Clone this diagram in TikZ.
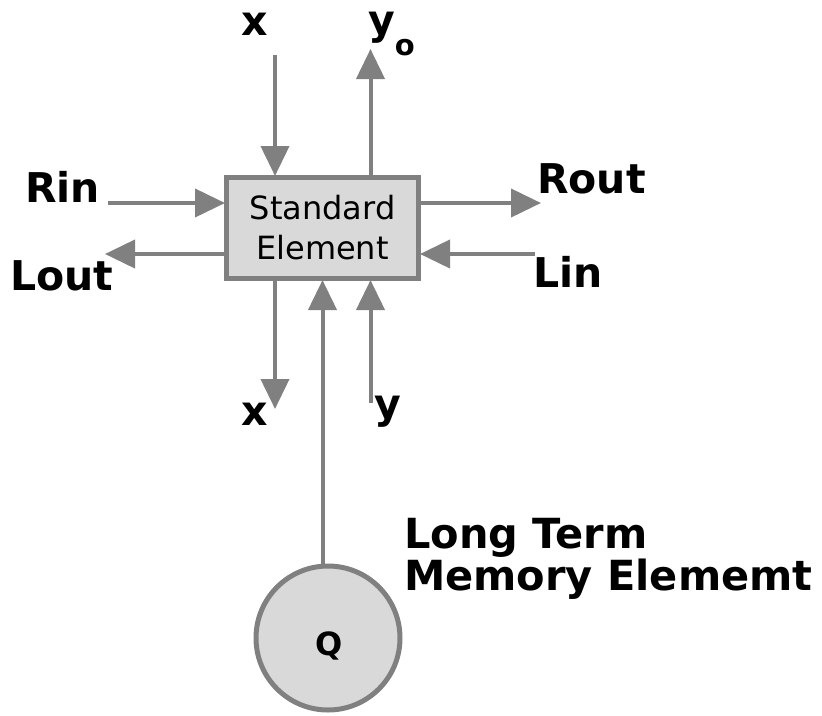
\documentclass[tikz,border=0pt]{standalone}
\usepackage{fontspec}
\setmainfont{DejaVu Sans}
\usetikzlibrary{arrows.meta}
\definecolor{linegray}{HTML}{808080}
\definecolor{fillgray}{HTML}{D9D9D9}
\tikzset{
  conn/.style={draw=linegray, line width=4pt, -{Triangle[width=28pt,length=30pt]}, shorten >=-1pt},
  lbl/.style={font=\fontsize{41}{41}\selectfont\bfseries, inner sep=0pt},
  elem/.style={draw=linegray, fill=fillgray, line width=5pt, minimum width=192pt, minimum height=101pt,
    inner sep=0pt, align=center, font=\fontsize{32}{40}\selectfont},
  memory/.style={circle, draw=linegray, fill=fillgray, line width=5pt, minimum size=144pt, inner sep=0pt}
}
\begin{document}
\begin{tikzpicture}[x=1pt,y=-1pt]
\useasboundingbox (0,0) rectangle (822,715);
\node[elem] (se) at (322.5,228) {Standard\\Element};
\node[memory] (q) at (328,638) {};
\node[font=\fontsize{32}{32}\selectfont\bfseries, anchor=base] (qlbl) at (329,655) {Q};
% free ends
\coordinate (xin) at (275,55);
\coordinate (yo) at (370.5,50);
\coordinate (rin) at (108,203);
\coordinate (rout) at (540,203);
\coordinate (lout) at (106,254);
\coordinate (lin) at (535,254);
\coordinate (xout) at (275,408);
\coordinate (yin) at (370.5,403);
\coordinate (qtop) at (322.5,566);
% connectors
\draw[conn] (xin) -- (xin |- se.north);
\draw[conn] (yo |- se.north) -- (yo);
\draw[conn] (rin) -- (rin -| se.west);
\draw[conn] (rout -| se.east) -- (rout);
\draw[conn] (lout -| se.west) -- (lout);
\draw[conn] (lin) -- (lin -| se.east);
\draw[conn] (xout |- se.south) -- (xout);
\draw[conn] (yin) -- (yin |- se.south);
\draw[conn] (qtop) -- (qtop |- se.south);
% labels
\node[lbl, anchor=base] (lx1) at (255,35) {x};
\node[lbl, anchor=base west] (lyo) at (368,34) {y\raisebox{-21pt}{\fontsize{29}{29}\selectfont o}};
\node[lbl, anchor=base west] (lrin) at (25,202) {Rin};
\node[lbl, anchor=base west] (llout) at (10,290) {Lout};
\node[lbl, anchor=base west] (lrout) at (537,193) {Rout};
\node[lbl, anchor=base west] (llin) at (533,287) {Lin};
\node[lbl, anchor=base] (lx2) at (255,425) {x};
\node[lbl, anchor=base west] (ly) at (374,418) {y};
\node[font=\fontsize{41.5}{42}\selectfont\bfseries, inner sep=0pt, anchor=base west, align=left] (lmem) at (404,590) {Long Term\\Memory Elememt};
\end{tikzpicture}
\end{document}
